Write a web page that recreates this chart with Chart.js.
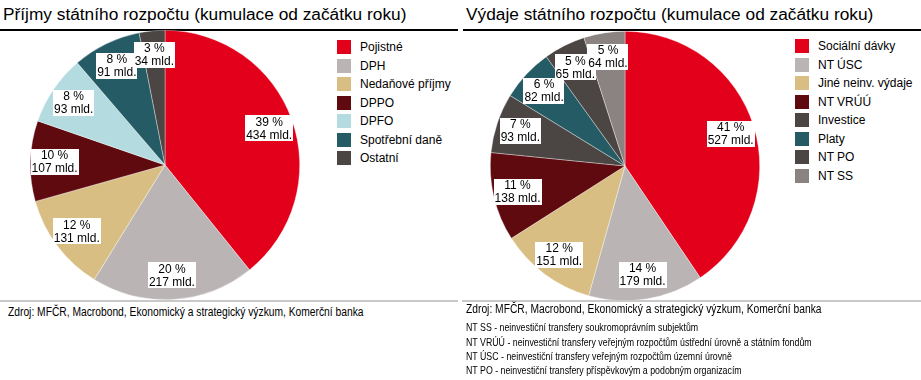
<!DOCTYPE html>
<html lang="cs">
<head>
    <meta charset="UTF-8">
    <title>Příjmy a výdaje státního rozpočtu</title>
    <style>
        body {
            margin: 0;
            background: #ffffff;
            font-family: 'Liberation Sans', Arial, sans-serif;
            color: #000;
        }
        #page {
            position: relative;
            width: 921px;
            height: 380px;
            overflow: hidden;
        }
        .abs { position: absolute; }
        .title {
            font-size: 17.3px;
            white-space: nowrap;
            top: 4px;
        }
        .topline { top: 29px; height: 2px; background: #000; }
        .bottomline { top: 300px; height: 2px; background: #c9c9c9; }
        /* zdroj a poznámky jsou v originále užším písmem */
        .source, .note {
            white-space: nowrap;
            transform-origin: 0 50%;
        }
        .source { font-size: 12.3px; transform: scaleX(0.835); }
        .note { font-size: 11px; left: 466px; transform: scaleX(0.80); }
        .legend { font-size: 12px; }
        .legend-row { position: absolute; white-space: nowrap; height: 14px; line-height: 14px; }
        .legend-row span.box {
            position: absolute; left: 0; top: 0; width: 14px; height: 14px;
        }
        .legend-row span.txt { position: absolute; left: 23px; top: 0; }
        canvas { position: absolute; }
    </style>
</head>
<body>
<div id="page">
    <div class="abs title" style="left:3px;">Příjmy státního rozpočtu (kumulace od začátku roku)</div>
    <div class="abs title" style="left:466px;">Výdaje státního rozpočtu (kumulace od začátku roku)</div>
    <div class="abs topline" style="left:0; width:458px;"></div>
    <div class="abs topline" style="left:463px; width:458px;"></div>

    <canvas id="incomeChart" width="270" height="270" style="left:30px; top:30px;"></canvas>
    <canvas id="spendChart" width="270" height="270" style="left:490px; top:31px;"></canvas>

    <div id="incomeLegend" class="abs legend" style="left:337px; top:40px;"></div>
    <div id="spendLegend" class="abs legend" style="left:795px; top:39px;"></div>

    <div class="abs bottomline" style="left:0; width:458px;"></div>
    <div class="abs bottomline" style="left:462px; width:459px;"></div>

    <div class="abs source" style="left:8px; top:305px;">Zdroj: MFČR, Macrobond, Ekonomický a strategický výzkum, Komerční banka</div>
    <div class="abs source" style="left:466px; top:302px;">Zdroj: MFČR, Macrobond, Ekonomický a strategický výzkum, Komerční banka</div>

    <div class="abs note" style="top:321px;">NT SS - neinvestiční transfery soukromoprávním subjektům</div>
    <div class="abs note" style="top:335.5px;">NT VRÚÚ - neinvestiční transfery veřejným rozpočtům ústřední úrovně a státním fondům</div>
    <div class="abs note" style="top:350px;">NT ÚSC - neinvestiční transfery veřejným rozpočtům územní úrovně</div>
    <div class="abs note" style="top:364px;">NT PO - neinvestiční transfery příspěvkovým a podobným organizacím</div>
</div>

<script src="https://cdn.jsdelivr.net/npm/chart.js@4.4.1/dist/chart.umd.min.js"></script>
<script>
    // příjmy (mld. Kč)
    const incomeLabels = ['Pojistné', 'DPH', 'Nedaňové příjmy', 'DPPO', 'DPFO', 'Spotřební daně', 'Ostatní'];
    const incomeValues = [434, 217, 131, 107, 93, 91, 34];
    const incomeColors = ['#e2001a', '#bab5b4', '#d9be84', '#5e0a0e', '#b3dbe0', '#255b64', '#4b4544'];

    // výdaje (mld. Kč)
    const spendLabels = ['Sociální dávky', 'NT ÚSC', 'Jiné neinv. výdaje', 'NT VRÚÚ', 'Investice', 'Platy', 'NT PO', 'NT SS'];
    const spendValues = [527, 179, 151, 138, 93, 82, 65, 64];
    const spendColors = ['#e2001a', '#bab5b4', '#d9be84', '#5e0a0e', '#4b4544', '#255b64', '#4b4544', '#8b8382'];

    const FONT = "'Liberation Sans', Arial, sans-serif";

    // popisky uvnitř výsečí: "xx %" a "yyy mld." v bílém rámečku
    const sliceLabels = {
        id: 'sliceLabels',
        afterDatasetsDraw(chart) {
            const ctx = chart.ctx;
            const meta = chart.getDatasetMeta(0);
            const data = chart.data.datasets[0].data;
            const total = data.reduce((a, b) => a + b, 0);
            ctx.save();
            ctx.font = '12px ' + FONT;
            ctx.textAlign = 'center';
            ctx.textBaseline = 'middle';
            meta.data.forEach((arc, i) => {
                const p = arc.getProps(['x', 'y', 'startAngle', 'endAngle', 'outerRadius'], true);
                const mid = (p.startAngle + p.endAngle) / 2;
                const r = p.outerRadius * 0.82;
                const cx = p.x + Math.cos(mid) * r;
                const cy = p.y + Math.sin(mid) * r;
                const l1 = Math.round(data[i] / total * 100) + ' %';
                const l2 = data[i] + ' mld.';
                const w = Math.max(ctx.measureText(l1).width, ctx.measureText(l2).width) + 2;
                ctx.fillStyle = '#ffffff';
                ctx.fillRect(Math.round(cx - w / 2), Math.round(cy - 13), Math.round(w), 26);
                ctx.fillStyle = '#000000';
                ctx.fillText(l1, cx, cy - 6);
                ctx.fillText(l2, cx, cy + 7);
            });
            ctx.restore();
        }
    };

    function makePie(id, labels, values, colors) {
        return new Chart(document.getElementById(id), {
            type: 'pie',
            data: {
                labels: labels,
                datasets: [{
                    data: values,
                    backgroundColor: colors,
                    borderColor: 'rgba(255,255,255,0.6)',
                    borderWidth: 0.6
                }]
            },
            options: {
                responsive: false,
                animation: false,
                layout: { padding: 0 },
                plugins: {
                    legend: { display: false },
                    tooltip: { enabled: false }
                }
            },
            plugins: [sliceLabels]
        });
    }

    function makeLegend(id, labels, colors) {
        const el = document.getElementById(id);
        labels.forEach((lab, i) => {
            const row = document.createElement('div');
            row.className = 'legend-row';
            row.style.top = (i * 18.5) + 'px';
            row.innerHTML = '<span class="box" style="background:' + colors[i] + '"></span><span class="txt">' + lab + '</span>';
            el.appendChild(row);
        });
    }

    makePie('incomeChart', incomeLabels, incomeValues, incomeColors);
    makePie('spendChart', spendLabels, spendValues, spendColors);
    makeLegend('incomeLegend', incomeLabels, incomeColors);
    makeLegend('spendLegend', spendLabels, spendColors);
</script>
</body>
</html>
